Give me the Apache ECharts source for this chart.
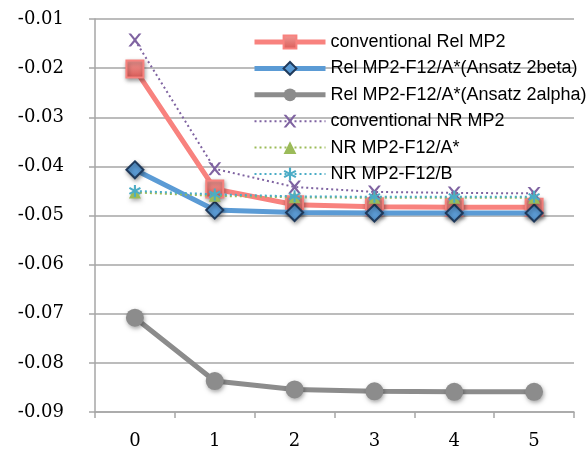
<!DOCTYPE html>
<html><head><meta charset="utf-8">
<script src="https://cdn.jsdelivr.net/npm/echarts@6/dist/echarts.min.js"></script>
<style>html,body{margin:0;padding:0;background:#fff}#c{width:588px;height:454px}</style>
</head><body><div id="c"></div>
<script>
const categories = ['0','1','2','3','4','5'];
const yTicks = [-0.09,-0.08,-0.07,-0.06,-0.05,-0.04,-0.03,-0.02,-0.01];
const seriesNames = ['conventional Rel MP2','Rel MP2-F12/A*(Ansatz 2beta)','Rel MP2-F12/A*(Ansatz 2alpha)','conventional NR MP2','NR MP2-F12/A*','NR MP2-F12/B'];
const convRel = [-0.0202,-0.0446,-0.0478,-0.0482,-0.0483,-0.0483];
const relBeta = [-0.0407,-0.0489,-0.0494,-0.0495,-0.0495,-0.0495];
const relAlpha = [-0.0708,-0.0837,-0.0854,-0.0858,-0.0859,-0.0859];
const convNR = [-0.0143,-0.0405,-0.0442,-0.0452,-0.0454,-0.0455];
const nrA = [-0.0453,-0.0460,-0.0463,-0.0464,-0.0464,-0.0464];
const nrB = [-0.0450,-0.0457,-0.0461,-0.0462,-0.0462,-0.0462];

const xMark = 'path://M0,0L2,0L5,3.5L8,0L10,0L6,5L10,10L8,10L5,6.5L2,10L0,10L4,5Z';
const starMark = 'path://M4.2,0H5.8V3.6L8.9,1.8L9.7,3.2L6.6,5L9.7,6.8L8.9,8.2L5.8,6.4V10H4.2V6.4L1.1,8.2L0.3,6.8L3.4,5L0.3,3.2L1.1,1.8L4.2,3.6Z';
const shadow = {shadowBlur:4, shadowColor:'rgba(0,0,0,0.35)', shadowOffsetX:1, shadowOffsetY:2};
const lineWidths = [5,5,5,2,2,2];

const chart = echarts.init(document.getElementById('c'));
chart.setOption({
  animation:false,
  backgroundColor:'#fff',
  grid:{left:95,right:14,top:19,bottom:42},
  legend:{
    orient:'vertical', left:247, top:28, itemWidth:71, itemHeight:16, itemGap:8.4,
    textStyle:{fontFamily:'Liberation Sans', fontSize:18, color:'#000'},
    data:seriesNames.map((n,i)=>({name:n, lineStyle:{width:lineWidths[i]}}))
  },
  xAxis:{
    type:'category', data:categories, boundaryGap:true,
    axisLine:{lineStyle:{color:'#a6a6a6', width:1.5}},
    axisTick:{show:true, length:6, lineStyle:{color:'#a6a6a6', width:1.5}},
    axisLabel:{fontFamily:'DejaVu Serif', fontSize:18, color:'#000', margin:20},
    splitLine:{show:false}
  },
  yAxis:{
    type:'value', min:-0.09, max:-0.01, interval:0.01,
    axisLine:{show:true, lineStyle:{color:'#a6a6a6', width:1.5}},
    axisTick:{show:true, length:6, lineStyle:{color:'#a6a6a6', width:1.5}},
    axisLabel:{fontFamily:'DejaVu Serif', fontSize:18, color:'#000', margin:31,
      formatter:v=>{const t=yTicks.find(x=>Math.abs(x-v)<1e-9);return (t!==undefined?t:v).toFixed(2);}},
    splitLine:{show:true, lineStyle:{color:'#a6a6a6', width:1.5}}
  },
  series:[
    {name:seriesNames[0], type:'line', data:convRel, symbol:'rect', symbolSize:17,
     lineStyle:{color:'#f8827e', width:5},
     itemStyle:Object.assign({color:{type:'linear',x:0,y:0,x2:0,y2:1,colorStops:[{offset:0,color:'#f29a96'},{offset:1,color:'#d95a56'}]}, borderColor:'#f8827e', borderWidth:2},shadow), z:2},
    {name:seriesNames[1], type:'line', data:relBeta, symbol:'diamond', symbolSize:[17,17],
     lineStyle:{color:'#5b9bd5', width:5},
     itemStyle:Object.assign({color:'#5b9bd5', borderColor:'#1f3a5c', borderWidth:2},shadow), z:3},
    {name:seriesNames[2], type:'line', data:relAlpha, symbol:'circle', symbolSize:18,
     lineStyle:{color:'#8c8c8c', width:5},
     itemStyle:Object.assign({color:'#8c8c8c', borderColor:'#8c8c8c', borderWidth:0},shadow), z:2},
    {name:seriesNames[3], type:'line', data:convNR, symbol:xMark, symbolSize:13,
     lineStyle:{color:'#7f63a1', width:2, type:[2,3]},
     itemStyle:{color:'#7f63a1'}, z:4},
    {name:seriesNames[4], type:'line', data:nrA, symbol:'triangle', symbolSize:12,
     lineStyle:{color:'#9bbb59', width:2, type:[2,3]},
     itemStyle:Object.assign({color:'#9bbb59'},shadow), z:4},
    {name:seriesNames[5], type:'line', data:nrB, symbol:starMark, symbolSize:12,
     lineStyle:{color:'#4bacc6', width:2, type:[2,3]},
     itemStyle:{color:'#4bacc6'}, z:5}
  ]
});
</script></body></html>
